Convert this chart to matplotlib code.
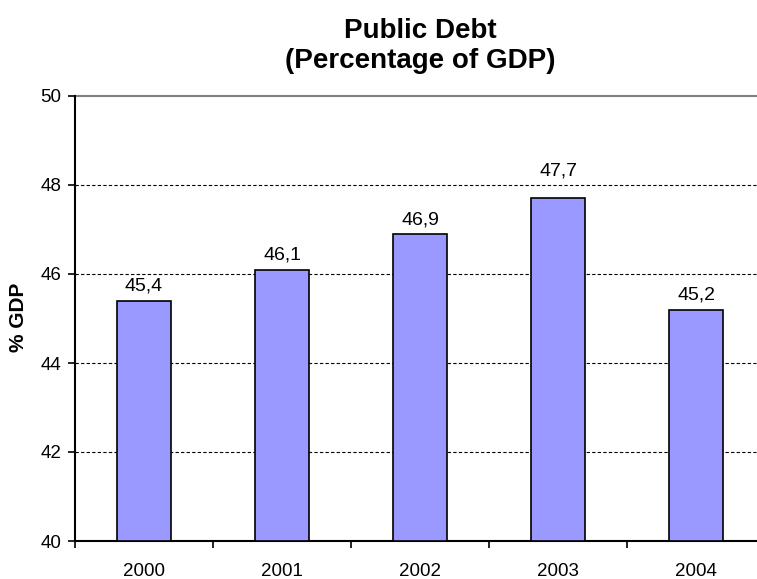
import matplotlib
matplotlib.use("Agg")
import matplotlib.pyplot as plt
import numpy as np

plt.rcParams["font.family"] = ["Liberation Sans", "DejaVu Sans"]

years = ["2000", "2001", "2002", "2003", "2004"]
debt = [45.4, 46.1, 46.9, 47.7, 45.2]
labels = ["45,4", "46,1", "46,9", "47,7", "45,2"]
# the 2003 label sits higher in the original, clear of the 48 gridline
label_lift = [0.13, 0.13, 0.13, 0.42, 0.13]

fig = plt.figure(figsize=(7.57, 5.79), dpi=100)
ax = fig.add_axes([75 / 757, 38 / 579, 690 / 757, 445 / 579])

x = np.arange(len(years))
ax.bar(x, [v - 40 for v in debt], bottom=40, width=0.395,
       color="#9999FF", edgecolor="black", linewidth=1.2, zorder=3)
for xi, v, lab, dy in zip(x, debt, labels, label_lift):
    ax.text(xi, v + dy, lab, ha="center", va="bottom", fontsize=14, zorder=4)

ax.set_xlim(-0.5, len(years) - 0.5)
ax.set_ylim(40, 50)
ax.set_yticks([40, 42, 44, 46, 48, 50])
ax.set_xticks(x)
ax.set_xticklabels(years, fontsize=13.5)
ax.set_xticks(np.arange(len(years) + 1) - 0.5, minor=True)
ax.tick_params(axis="x", which="major", length=0, pad=16)
ax.tick_params(axis="x", which="minor", length=5, width=1.2, direction="out")
ax.tick_params(axis="y", length=5, width=1.2, direction="out", labelsize=13.5, pad=5)

for yv in [42, 44, 46, 48]:
    ax.axhline(yv, color="black", linestyle=(0, (3, 2)), linewidth=0.8, zorder=1)
ax.axhline(50, color="#808080", linewidth=1.5, zorder=1, clip_on=False)

ax.spines["top"].set_visible(False)
ax.spines["right"].set_visible(False)
ax.spines["left"].set_linewidth(1.5)
ax.spines["bottom"].set_linewidth(1.5)

fig.text(18 / 757, 1 - 317 / 579, "% GDP", rotation=90, ha="center", va="center",
         fontsize=15, fontweight="bold")
fig.text(420 / 757, 1 - 46 / 579, "Public Debt\n(Percentage of GDP)", ha="center",
         va="center", fontsize=20, fontweight="bold", linespacing=1.25)

fig.savefig("out.png", dpi=100)
